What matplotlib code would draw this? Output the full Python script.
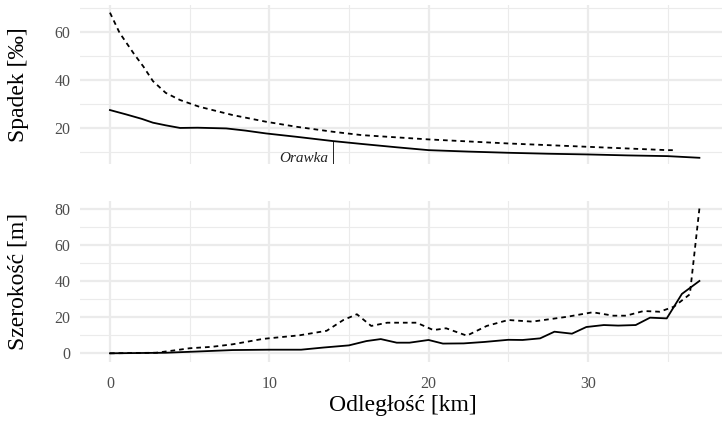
import numpy as np
import matplotlib
matplotlib.use('Agg')
from matplotlib import pyplot as plt
from matplotlib.ticker import MultipleLocator, FixedLocator

plt.rcParams['font.family'] = ['Liberation Serif', 'DejaVu Serif']

# spadek (slope), per mille
spadek_km = [0, 1, 2, 2.7, 3.5, 4.4, 5.5, 7.3, 8.5, 9.8, 11.7, 14, 15.8, 18, 20, 22.5, 25, 27.5, 30, 32.5, 35, 37]
spadek_a = [27.4, 25.6, 23.7, 22.1, 21.0, 19.9, 20.0, 19.7, 18.8, 17.6, 16.2, 14.4, 13.2, 11.8, 10.6, 10.0, 9.5, 9.1, 8.8, 8.4, 8.1, 7.4]
spadek_b_km = [0, 0.6, 1.5, 2.1, 2.7, 3.5, 4.4, 5.6, 7.7, 9.8, 11.7, 14, 15.8, 20, 25, 30, 35, 35.5]
spadek_b = [68.2, 59.8, 51.0, 45.6, 39.5, 34.6, 31.6, 28.8, 25.3, 22.5, 20.4, 18.3, 16.9, 15.1, 13.4, 12.0, 10.6, 10.6]

# szerokosc (width), m
szer_a_km = [0, 3.5, 5.5, 7.7, 10, 12, 13.4, 15, 16.1, 17, 18, 18.8, 20, 20.9, 22.2, 23.5, 25, 25.9, 27, 27.9,
             29, 29.9, 31, 31.9, 33, 33.9, 34.95, 35.9, 37]
szer_a = [0, 0.3, 1.0, 1.8, 2.0, 2.0, 3.2, 4.4, 6.8, 7.9, 5.9, 5.9, 7.4, 5.4, 5.5, 6.3, 7.5, 7.4, 8.3, 12.0,
          10.9, 14.6, 15.7, 15.4, 15.7, 19.8, 19.4, 33.0, 40.2]
szer_b_km = [0, 2.9, 4.2, 5.0, 6.4, 7.7, 9.6, 11.9, 13.6, 14.65, 15.5, 16.4, 17.4, 19.25, 20.3, 21.1, 22.4, 23.65,
             25, 26.5, 28.7, 30.3, 31.6, 32.4, 33.5, 34.5, 35.4, 36.4, 37.0]
szer_b = [0, 0.3, 1.8, 2.8, 3.6, 5.0, 8.0, 10.0, 12.5, 18.5, 21.7, 15.2, 17.0, 17.0, 12.9, 13.9, 9.8, 15.2,
          18.5, 17.6, 20.3, 22.8, 20.9, 20.9, 23.5, 23.1, 25.9, 32.8, 80.5]

orawka_km = 14.0
orawka_val = 14.4

grid_col = '#EBEBEB'
tick_col = '#4D4D4D'


def style(ax, ymajor, yminor):
    for s in ax.spines.values():
        s.set_visible(False)
    ax.xaxis.set_major_locator(FixedLocator([0, 10, 20, 30]))
    ax.xaxis.set_minor_locator(FixedLocator([5, 15, 25, 35]))
    ax.yaxis.set_major_locator(FixedLocator(ymajor))
    ax.yaxis.set_minor_locator(FixedLocator(yminor))
    ax.grid(which='major', color=grid_col, lw=1.6)
    ax.grid(which='minor', color=grid_col, lw=0.8)
    ax.set_axisbelow(True)
    ax.tick_params(which='both', length=0, labelsize=11.5, labelcolor=tick_col)
    ax.tick_params(axis='y', pad=7)
    ax.tick_params(axis='x', pad=10)
    ax.set_xlim(-1.88, 38.92)


fig = plt.figure(figsize=(7.22, 4.24), dpi=100)
ax1 = fig.add_axes([80 / 722, 1 - 164 / 424, 650 / 722, 159 / 424])
ax2 = fig.add_axes([80 / 722, 1 - 361.7 / 424, 650 / 722, 161 / 424])

ax1.plot(spadek_km, spadek_a, color='black', lw=1.3)
ax1.plot(spadek_b_km, spadek_b, color='black', lw=1.3, dashes=(2.6, 2.2))
ax1.vlines(orawka_km, 0, orawka_val, color='black', lw=0.6)
ax1.text(orawka_km - 0.3, 5.6, 'Orawka', ha='right', va='baseline', style='italic', fontsize=11, color='#222222')
style(ax1, [20, 40, 60], [10, 30, 50, 70])
ax1.set_ylim(4.8, 71.4)
ax1.tick_params(axis='x', labelbottom=False)
ax1.set_ylabel('Spadek [‰]', fontsize=17, va='center')
ax1.yaxis.set_label_coords(-0.095, 0.5)

ax2.plot(szer_a_km, szer_a, color='black', lw=1.3)
ax2.plot(szer_b_km, szer_b, color='black', lw=1.3, dashes=(2.6, 2.2))
style(ax2, [0, 20, 40, 60, 80], [10, 30, 50, 70])
ax2.set_ylim(-4.67, 84.8)
ax2.set_ylabel('Szerokość [m]', fontsize=17, va='center')
ax2.yaxis.set_label_coords(-0.095, 0.5)
ax2.set_xlabel('Odległość [km]', fontsize=17)
ax2.xaxis.set_label_coords(0.497, -0.27)
ax2.xaxis.label.set_va('center')

fig.savefig('out.png', dpi=100)
